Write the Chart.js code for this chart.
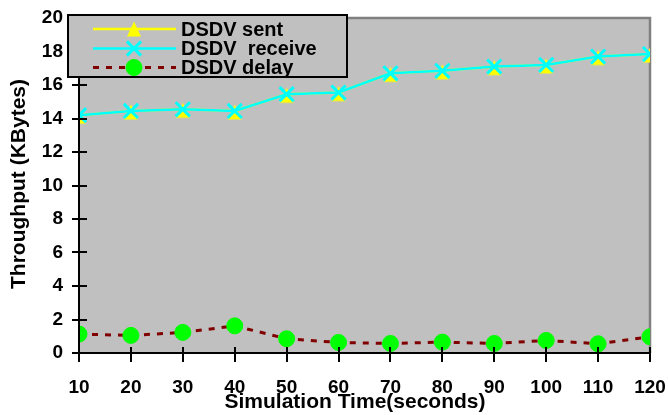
<!DOCTYPE html>
<html>
<head>
<meta charset="utf-8">
<script src="https://cdn.jsdelivr.net/npm/chart.js@4/dist/chart.umd.min.js"></script>
<style>
html,body{margin:0;padding:0;background:#fff;}
#wrap{width:668px;height:415px;position:relative;}
</style>
</head>
<body>
<div id="wrap"><canvas id="c" width="668" height="415"></canvas></div>
<script>
const simTimes = [10, 20, 30, 40, 50, 60, 70, 80, 90, 100, 110, 120];
const sentValues = [14.2, 14.45, 14.55, 14.45, 15.45, 15.55, 16.7, 16.85, 17.1, 17.2, 17.7, 17.85];
const receiveValues = [14.2, 14.45, 14.55, 14.45, 15.45, 15.55, 16.7, 16.85, 17.1, 17.2, 17.7, 17.85];
const delayValues = [1.13, 1.05, 1.23, 1.62, 0.85, 0.63, 0.57, 0.65, 0.57, 0.75, 0.55, 0.97];
const seriesNames = ['DSDV sent', 'DSDV  receive', 'DSDV delay'];
const xTitle = 'Simulation Time(seconds)';
const yTitle = 'Throughput (KBytes)';
const yTickValues = [0, 2, 4, 6, 8, 10, 12, 14, 16, 18, 20];

const FONT = '"Liberation Sans", Arial, sans-serif';

function pts(vals){ return simTimes.map((t,i)=>({x:t,y:vals[i]})); }

const triImg = document.createElement('canvas');
triImg.width = 20; triImg.height = 20;
(function(){
  const c = triImg.getContext('2d');
  c.fillStyle = '#FFFF00';
  c.beginPath();
  c.moveTo(10, 3.5);
  c.lineTo(3, 18.5);
  c.lineTo(17, 18.5);
  c.closePath();
  c.fill();
})();

const decor = {
  id:'decor',
  beforeDraw(chart){
    const {ctx, chartArea:a} = chart;
    ctx.save();
    ctx.fillStyle = '#C0C0C0';
    ctx.fillRect(a.left, a.top, a.right-a.left, a.bottom-a.top);
    ctx.strokeStyle = '#808080';
    ctx.lineWidth = 2.5;
    ctx.beginPath();
    ctx.moveTo(a.left, a.top);
    ctx.lineTo(a.right, a.top);
    ctx.lineTo(a.right, a.bottom);
    ctx.stroke();
    ctx.restore();
  },
  afterDraw(chart){
    const {ctx, chartArea:a, scales} = chart;
    const xs = scales.x, ys = scales.y;
    ctx.save();
    ctx.strokeStyle = '#000';
    ctx.lineWidth = 2;
    ctx.beginPath();
    ctx.moveTo(a.left, a.top);
    ctx.lineTo(a.left, a.bottom);
    ctx.lineTo(a.right, a.bottom);
    ctx.stroke();
    ys.ticks.forEach(t=>{
      const y = Math.round(ys.getPixelForValue(t.value));
      ctx.beginPath(); ctx.moveTo(a.left-7, y); ctx.lineTo(a.left+8, y); ctx.stroke();
    });
    xs.ticks.forEach(t=>{
      const x = Math.round(xs.getPixelForValue(t.value));
      ctx.beginPath(); ctx.moveTo(x, a.bottom-6); ctx.lineTo(x, a.bottom+9); ctx.stroke();
    });
    ctx.fillStyle = '#000';
    ctx.font = 'bold 21px ' + FONT;
    ctx.textAlign = 'center';
    ctx.textBaseline = 'middle';
    ctx.fillText(xTitle, 355, 402);
    ctx.save();
    ctx.translate(19, 184);
    ctx.rotate(-Math.PI/2);
    ctx.fillText(yTitle, 0, 0);
    ctx.restore();

    const L = 68, T = 15, R = 347, B = 77;
    ctx.fillStyle = '#C0C0C0';
    ctx.fillRect(L, T, R-L, B-T);
    ctx.save();
    ctx.beginPath(); ctx.rect(L, T, R-L, B-T); ctx.clip();
    const rows = [29, 48.5, 67.5];
    const ds = chart.data.datasets;
    [0,1,2].forEach((di, r)=>{
      const d = ds[di], y = rows[r];
      ctx.strokeStyle = d.borderColor;
      ctx.lineWidth = d.borderWidth;
      ctx.setLineDash(d.borderDash || []);
      ctx.beginPath(); ctx.moveTo(93, y); ctx.lineTo(176, y); ctx.stroke();
      ctx.setLineDash([]);
      ctx.fillStyle = d.pointBackgroundColor;
      ctx.strokeStyle = d.pointBorderColor;
      ctx.lineWidth = d.pointBorderWidth;
      Chart.helpers.drawPoint(ctx, {pointStyle: d.pointStyle, radius: d.pointRadius, rotation: 0, borderWidth: d.pointBorderWidth}, 134, r===0 ? y-1 : y);
      ctx.fillStyle = '#000';
      ctx.font = 'bold 20px ' + FONT;
      ctx.textAlign = 'left';
      ctx.textBaseline = 'middle';
      ctx.fillText(d.label, 181, y+1);
    });
    ctx.restore();
    ctx.strokeStyle = '#000';
    ctx.lineWidth = 2;
    ctx.strokeRect(L, T, R-L, B-T);
    ctx.restore();
  }
};

new Chart(document.getElementById('c'), {
  type: 'line',
  data: {
    datasets: [
      {
        label: seriesNames[0], data: pts(sentValues), order: 2,
        borderColor: '#FFFF00', borderWidth: 2.5,
        pointStyle: triImg, pointRadius: 8, pointBorderWidth: 0,
        pointBackgroundColor: '#FFFF00', pointBorderColor: '#FFFF00'
      },
      {
        label: seriesNames[1], data: pts(receiveValues), order: 1,
        borderColor: '#00FFFF', borderWidth: 2.5,
        pointStyle: 'crossRot', pointRadius: 10, pointBorderWidth: 3,
        pointBackgroundColor: '#00FFFF', pointBorderColor: '#00FFFF'
      },
      {
        label: seriesNames[2], data: pts(delayValues), order: 0,
        borderColor: '#800000', borderWidth: 3, borderDash: [6, 7],
        pointStyle: 'circle', pointRadius: 8, pointBorderWidth: 1,
        pointBackgroundColor: '#00FF00', pointBorderColor: '#00FF00'
      }
    ]
  },
  options: {
    responsive: false,
    animation: false,
    events: [],
    layout: { padding: { top: 18, right: 18, left: 0, bottom: 0 } },
    plugins: { legend: { display: false }, tooltip: { enabled: false }, title: { display: false } },
    elements: { line: { tension: 0 } },
    scales: {
      x: {
        type: 'linear', min: 10, max: 120,
        afterBuildTicks(s){ s.ticks = simTimes.map(v=>({value:v})); },
        ticks: { stepSize: 10, padding: 23, color: '#000', font: { family: FONT, size: 19, weight: 'bold' }, maxRotation: 0, autoSkip: false },
        grid: { display: false, drawTicks: false },
        border: { display: false },
        afterFit(s){ s.height = 62; s.paddingLeft = 0; s.paddingRight = 0; }
      },
      y: {
        type: 'linear', min: 0, max: 20,
        afterBuildTicks(s){ s.ticks = yTickValues.map(v=>({value:v})); },
        ticks: { stepSize: 2, padding: 16, color: '#000', font: { family: FONT, size: 19, weight: 'bold' } },
        grid: { display: false, drawTicks: false },
        border: { display: false },
        afterFit(s){ s.width = 79; s.paddingTop = 0; s.paddingBottom = 0; }
      }
    }
  },
  plugins: [decor]
});
</script>
</body>
</html>
